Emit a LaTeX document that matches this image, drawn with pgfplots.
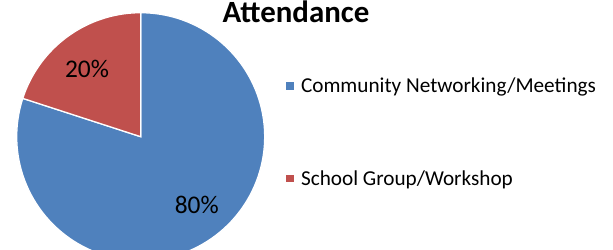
\documentclass[border=0pt]{standalone}
\usepackage{fontspec}
\setmainfont{Carlito}
\usepackage{pgfplots}
\usepackage{pgfplotstable}
\pgfplotsset{compat=1.18}
\definecolor{pieblue}{HTML}{4F81BD}
\definecolor{piered}{HTML}{C0504D}
\pgfplotstableread{
label value
Community 80
School 20
}\piedata
\begin{document}
\begin{tikzpicture}
\pgfplotstablegetelem{0}{value}\of\piedata \let\valA\pgfplotsretval
\pgfplotstablegetelem{1}{value}\of\piedata \let\valB\pgfplotsretval
\pgfmathsetmacro{\angA}{90-3.6*\valA}
\pgfmathsetmacro{\angB}{90+3.6*\valB}
\useasboundingbox (0,0) rectangle (613bp,250bp);
\clip (0,0) rectangle (613bp,250bp);
\begin{axis}[
  anchor=origin, at={(140.7bp,113.3bp)},
  x=124bp, y=124bp,
  xmin=-1, xmax=1, ymin=-1, ymax=1,
  hide axis, clip=false,
  legend image code/.code={\fill[#1] (0bp,-4.6bp) rectangle (9.5bp,4.6bp);},
  legend style={draw=none, fill=none, at={(axis description cs:1.078,0.745)}, anchor=north west,
    font=\fontsize{21.3}{25}\selectfont, row sep=72bp, column sep=4bp, inner sep=0pt,
    nodes={inner sep=2bp}},
  legend cell align=left,
]
\addplot[fill=pieblue, draw=white, line width=1.3pt, domain=\angA:90, samples=120, variable=\t]
  ({cos(\t)},{sin(\t)}) -- (axis cs:0,0) -- cycle;
\addlegendentry{Community Networking/Meetings}
\addplot[fill=piered, draw=white, line width=1.3pt, domain=90:\angB, samples=60, variable=\t]
  ({cos(\t)},{sin(\t)}) -- (axis cs:0,0) -- cycle;
\addlegendentry{School Group/Workshop}
\node[anchor=base, font=\fontsize{25.5}{30}\selectfont] at (axis cs:-0.433,0.479) {20\%};
\node[anchor=base, font=\fontsize{25.5}{30}\selectfont] at (axis cs:0.452,-0.623) {80\%};
\node[anchor=base, inner sep=0pt, font=\fontsize{31}{37}\selectfont\bfseries] at (axis description cs:1.126,0.9625) {Attendance};
\end{axis}
\end{tikzpicture}
\end{document}
